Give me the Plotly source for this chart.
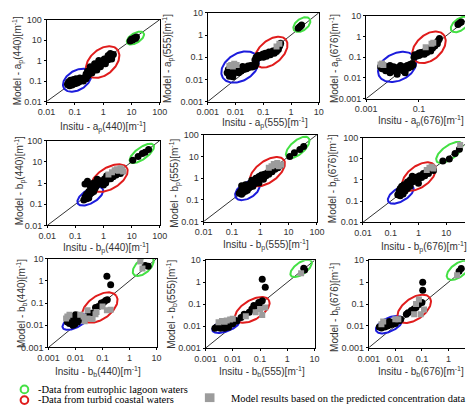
import numpy as np
import plotly.graph_objects as go

# ---------------- data (black = model, gray = model from predicted concentrations) ----
AP440_INSITU = [0.055, 0.06, 0.065, 0.07, 0.075, 0.08, 0.085, 0.09, 0.1, 0.1, 0.11, 0.12, 0.13, 0.14, 0.15, 0.16, 0.18, 0.2, 0.22, 0.25, 0.28, 0.3,
                0.25, 0.28, 0.3, 0.35, 0.38, 0.4, 0.45, 0.5, 0.5, 0.55, 0.6, 0.65, 0.7, 0.75, 0.8, 0.9, 1.0, 1.0, 1.1, 1.2, 1.4, 1.5, 1.7, 2.0, 2.3,
                0.4, 0.6, 0.8, 1.2, 0.35, 0.5, 0.7, 1.5, 2.0, 1.8,
                9, 10, 11, 12, 13, 14, 15]
AP440_MODEL = [0.07, 0.09, 0.06, 0.11, 0.08, 0.065, 0.1, 0.12, 0.075, 0.095, 0.13, 0.08, 0.11, 0.09, 0.14, 0.11, 0.12, 0.1, 0.15, 0.13, 0.17, 0.2,
               0.22, 0.3, 0.25, 0.35, 0.28, 0.45, 0.4, 0.5, 0.35, 0.6, 0.45, 0.7, 0.55, 0.85, 0.65, 0.8, 1.0, 0.7, 1.2, 0.9, 1.3, 1.1, 1.6, 1.5, 2.0,
               0.25, 0.35, 0.5, 0.7, 0.5, 0.7, 1.0, 1.8, 1.2, 2.2,
               9, 11, 10, 12, 13, 12, 14]
AP440_PRED_INSITU = []
AP440_PRED_MODEL = []

AP555_INSITU = [0.005, 0.0055, 0.006, 0.007, 0.007, 0.008, 0.009, 0.01, 0.01, 0.012, 0.013, 0.015, 0.016, 0.018, 0.02, 0.022, 0.025, 0.028, 0.03, 0.035, 0.04, 0.045, 0.05, 0.055, 0.006, 0.008,
                0.05, 0.055, 0.06, 0.065, 0.07, 0.08, 0.09, 0.1, 0.1, 0.11, 0.12, 0.13, 0.15, 0.16, 0.18, 0.2, 0.22, 0.25, 0.27, 0.3, 0.32, 0.35, 0.38, 0.4, 0.42,
                1.8, 2.0, 2.2, 2.4]
AP555_MODEL = [0.02, 0.028, 0.016, 0.022, 0.032, 0.018, 0.026, 0.021, 0.035, 0.028, 0.02, 0.032, 0.024, 0.038, 0.028, 0.035, 0.03, 0.04, 0.034, 0.042, 0.036, 0.045, 0.04, 0.05, 0.014, 0.013,
               0.075, 0.1, 0.085, 0.12, 0.095, 0.11, 0.13, 0.1, 0.14, 0.12, 0.15, 0.11, 0.14, 0.17, 0.13, 0.16, 0.19, 0.15, 0.2, 0.18, 0.25, 0.22, 0.3, 0.35, 0.42,
               2.0, 2.3, 2.5, 2.8]
AP555_PRED_INSITU = [0.006, 0.007, 0.008, 0.009, 0.011, 0.3, 0.38]
AP555_PRED_MODEL = [0.04, 0.045, 0.038, 0.05, 0.045, 0.3, 0.4]

AP676_INSITU = [0.0035, 0.004, 0.0045, 0.005, 0.0055, 0.006, 0.007, 0.008, 0.009, 0.01, 0.011, 0.012, 0.014, 0.016, 0.018, 0.02, 0.022, 0.025, 0.028, 0.032, 0.036, 0.04, 0.045, 0.05, 0.055, 0.06, 0.008, 0.015, 0.03,
                0.065, 0.07, 0.08, 0.09, 0.1, 0.1, 0.11, 0.12, 0.13, 0.15, 0.16, 0.18, 0.2, 0.22, 0.25, 0.28, 0.3, 0.33, 0.36, 0.4, 0.45, 0.5, 0.55, 0.6,
                3.0, 3.5, 4.0]
AP676_MODEL = [0.035, 0.028, 0.04, 0.03, 0.022, 0.035, 0.026, 0.04, 0.03, 0.022, 0.035, 0.028, 0.02, 0.032, 0.025, 0.04, 0.028, 0.022, 0.035, 0.028, 0.04, 0.03, 0.045, 0.035, 0.05, 0.042, 0.018, 0.015, 0.018,
               0.1, 0.13, 0.11, 0.14, 0.12, 0.16, 0.13, 0.17, 0.15, 0.18, 0.14, 0.2, 0.17, 0.22, 0.25, 0.2, 0.3, 0.28, 0.4, 0.35, 0.5, 0.45, 0.65, 0.8,
               3.8, 4.5, 5.0]
AP676_PRED_INSITU = [0.0035, 0.004, 0.0045, 0.18, 0.3, 0.35]
AP676_PRED_MODEL = [0.045, 0.05, 0.042, 0.3, 0.45, 0.5]

BP440_INSITU = [0.2, 0.22, 0.25, 0.25, 0.28, 0.3, 0.3, 0.33, 0.35, 0.38, 0.4, 0.42, 0.45, 0.5, 0.55, 0.22, 0.27, 0.32,
                0.4, 0.45, 0.5, 0.6, 0.7, 0.8, 0.9, 1.0, 1.1, 1.2, 1.4, 1.6, 1.8, 2.0, 2.2, 2.5, 2.8, 3.0, 3.5, 4.0, 4.5, 1.0, 1.3, 0.6,
                11, 17, 24, 30, 40]
BP440_MODEL = [0.16, 0.22, 0.18, 0.3, 0.25, 0.2, 0.4, 0.3, 0.5, 0.35, 0.45, 0.6, 0.4, 0.55, 0.7, 0.9, 1.2, 0.8,
               0.7, 1.0, 0.8, 1.1, 0.9, 1.3, 1.0, 1.2, 1.6, 1.0, 1.5, 2.0, 1.6, 2.5, 2.0, 3.0, 2.4, 3.5, 3.0, 2.8, 3.5, 0.8, 2.2, 1.5,
               12, 18, 25, 28, 38]
BP440_PRED_INSITU = [2.5, 3.0, 3.5, 4.0, 4.5, 5.0, 1.5, 2.0]
BP440_PRED_MODEL = [4.0, 4.5, 3.8, 5.0, 4.2, 3.5, 2.5, 3.2]

BP555_INSITU = [0.18, 0.2, 0.22, 0.25, 0.25, 0.28, 0.3, 0.32, 0.35, 0.38, 0.4, 0.45, 0.5, 0.55, 0.6, 0.7, 0.22, 0.3,
                0.45, 0.5, 0.6, 0.7, 0.8, 0.9, 1.0, 1.1, 1.2, 1.4, 1.6, 1.8, 2.0, 2.3, 2.6, 3.0, 3.3, 3.7, 4.2, 5.0, 0.9, 1.3,
                11, 16, 25, 34]
BP555_MODEL = [0.2, 0.25, 0.18, 0.3, 0.22, 0.4, 0.25, 0.33, 0.28, 0.45, 0.35, 0.4, 0.5, 0.42, 0.55, 0.6, 0.45, 0.5,
               0.6, 0.8, 0.7, 1.0, 0.9, 1.2, 1.0, 1.4, 1.1, 1.5, 1.3, 1.8, 1.5, 2.5, 2.0, 3.0, 2.6, 3.5, 3.0, 3.8, 0.6, 0.9,
               10, 15, 21, 29]
BP555_PRED_INSITU = [2.5, 3.0, 3.5, 4.0, 4.5, 5.5, 2.0]
BP555_PRED_MODEL = [3.5, 4.5, 4.0, 5.0, 3.5, 4.2, 3.0]

BP676_INSITU = [0.18, 0.2, 0.22, 0.22, 0.25, 0.25, 0.28, 0.3, 0.3, 0.33, 0.35, 0.4, 0.45, 0.5,
                0.35, 0.4, 0.45, 0.5, 0.6, 0.7, 0.8, 0.9, 1.0, 1.1, 1.3, 1.5, 1.7, 2.0, 2.3, 2.6, 3.0, 3.5, 0.6, 1.0,
                7.6, 13, 21, 30]
BP676_MODEL = [0.2, 0.3, 0.18, 0.4, 0.25, 0.5, 0.22, 0.35, 0.6, 0.3, 0.45, 0.4, 0.55, 0.5,
               0.6, 0.8, 0.6, 1.0, 0.8, 1.2, 1.0, 1.4, 1.1, 1.6, 1.3, 2.0, 1.6, 2.5, 2.0, 3.0, 3.5, 2.8, 1.5, 0.7,
               8, 9.8, 18, 28]
BP676_PRED_INSITU = [2.0, 2.5, 3.0, 3.5, 32]
BP676_PRED_MODEL = [3.0, 3.8, 4.2, 3.5, 45]

BB440_INSITU = [0.005, 0.0055, 0.006, 0.0065, 0.007, 0.0075, 0.008, 0.0085, 0.009, 0.0095, 0.01, 0.011, 0.012, 0.013, 0.015, 0.017, 0.02, 0.008, 0.01, 0.012,
                0.03, 0.04, 0.055, 0.07, 0.09, 0.11, 0.13, 0.15,
                0.145, 0.2, 3.8, 4.9]
BB440_MODEL = [0.014, 0.018, 0.012, 0.02, 0.015, 0.025, 0.013, 0.018, 0.022, 0.011, 0.016, 0.02, 0.014, 0.025, 0.018, 0.022, 0.02, 0.01, 0.03, 0.028,
               0.03, 0.035, 0.063, 0.07, 0.1, 0.11, 0.13, 0.14,
               1.6, 0.67, 4.9, 4.5]
BB440_PRED_INSITU = [0.0045, 0.005, 0.006, 0.015, 0.02, 0.022, 0.028, 0.028, 0.043, 0.055, 0.06, 0.1, 0.145, 0.2, 2.5, 3.0]
BB440_PRED_MODEL = [0.02, 0.025, 0.03, 0.03, 0.025, 0.015, 0.047, 0.02, 0.019, 0.031, 0.04, 0.07, 0.047, 0.05, 7.4, 3.6]

BB555_INSITU = [0.0025, 0.003, 0.0035, 0.004, 0.0045, 0.005, 0.0055, 0.006, 0.0065, 0.007, 0.008, 0.009, 0.01, 0.011, 0.012, 0.014, 0.005, 0.007, 0.0022,
                0.02, 0.026, 0.04, 0.05, 0.059, 0.07, 0.089, 0.1, 0.12,
                0.12, 0.155, 4.0, 4.3]
BB555_MODEL = [0.009, 0.01, 0.008, 0.011, 0.009, 0.012, 0.01, 0.013, 0.011, 0.014, 0.012, 0.015, 0.013, 0.016, 0.018, 0.017, 0.008, 0.009, 0.008,
               0.025, 0.035, 0.043, 0.06, 0.087, 0.08, 0.12, 0.11, 0.145,
               1.38, 0.59, 4.3, 3.6]
BB555_PRED_INSITU = [0.003, 0.004, 0.005, 0.006, 0.008, 0.01, 0.069, 0.12, 0.155, 0.03, 0.1, 3.2]
BB555_PRED_MODEL = [0.015, 0.017, 0.016, 0.018, 0.02, 0.022, 0.043, 0.032, 0.07, 0.028, 0.06, 2.6]

BB676_INSITU = [0.0025, 0.003, 0.0035, 0.004, 0.0045, 0.005, 0.0055, 0.006, 0.007, 0.008, 0.009, 0.01, 0.011, 0.012, 0.014, 0.016, 0.004, 0.006,
                0.026, 0.04, 0.06, 0.077, 0.1, 0.05, 0.03,
                0.107, 0.107, 2.5, 3.0]
BB676_MODEL = [0.009, 0.008, 0.011, 0.009, 0.012, 0.01, 0.013, 0.011, 0.014, 0.012, 0.015, 0.013, 0.016, 0.018, 0.017, 0.02, 0.014, 0.016,
               0.034, 0.051, 0.069, 0.095, 0.117, 0.06, 0.04,
               1.0, 0.43, 3.2, 4.2]
BB676_PRED_INSITU = [0.003, 0.0035, 0.01, 0.013, 0.051, 0.077, 0.09, 0.12, 0.06, 2.1]
BB676_PRED_MODEL = [0.012, 0.016, 0.02, 0.02, 0.034, 0.16, 0.034, 0.056, 0.1, 2.1]

TICKS_0_01 = [0.01, 0.1, 1, 10, 100]
TICKS_0_01_TEXT = ["0.01", "0.1", "1", "10", "100"]
TICKS_0_001 = [0.001, 0.01, 0.1, 1, 10]
TICKS_0_001_TEXT = ["0.001", "0.01", "0.1", "1", "10"]
TICKS_SPARSE = [0.001, 0.1, 10]
TICKS_SPARSE_TEXT = ["0.001", "0.1", "10"]

LEGEND_TEXTS = ["-Data from eutrophic lagoon waters", "-Data from turbid coastal waters",
                "Model results based on the predicted concentration data"]

# ---------------- layout / styling ----------------
W, H = 473, 410
BLUE, RED, GREEN = '#1c1cdc', '#e01c1c', '#44e044'
TXT = '#333333'


def lab(kind, sub, wl, model):
    pre = "Model - " if model else "Insitu - "
    return f"{pre}{kind}<sub>{sub}</sub>({wl})[m<sup>-1</sup>]"


PANELS = [
    dict(d=(AP440_INSITU, AP440_MODEL, AP440_PRED_INSITU, AP440_PRED_MODEL), box=(37, 155, 15, 99),
         xr=(-2, 2), yr=(-2, 2), xt=(TICKS_0_01, TICKS_0_01_TEXT), yt=(TICKS_0_01, TICKS_0_01_TEXT),
         lab=("a", "p", "440"), xtp=(96, 125), ytp=(7, 57), right=True,
         ell=[(0.12, 0.11, 16, 10, 30, BLUE), (0.96, 0.85, 20, 13, 40, RED), (13.8, 12.6, 10, 5, 30, GREEN)]),
    dict(d=(AP555_INSITU, AP555_MODEL, AP555_PRED_INSITU, AP555_PRED_MODEL), box=(205, 320.7, 8, 99),
         xr=(-3, 1), yr=(-3, 1), xt=(TICKS_0_001, TICKS_0_001_TEXT), yt=(TICKS_0_001, TICKS_0_001_TEXT),
         lab=("a", "p", "555"), xtp=(265, 121), ytp=(163, 55), right=True,
         ell=[(0.0145, 0.036, 21, 14, 30, BLUE), (0.19, 0.17, 20, 12, 40, RED), (2.45, 2.95, 10, 6, 35, GREEN)]),
    dict(d=(AP676_INSITU, AP676_MODEL, AP676_PRED_INSITU, AP676_PRED_MODEL), box=(370, 473, 11, 96),
         xr=(-3, 0.745), yr=(-3, 1), xt=(TICKS_SPARSE, TICKS_SPARSE_TEXT), yt=(TICKS_0_001, TICKS_0_001_TEXT),
         lab=("a", "p", "676"), xtp=(427, 119), ytp=(337, 55), right=False,
         ell=[(0.015, 0.034, 21, 14, 25, BLUE), (0.24, 0.3, 20, 13, 40, RED), (3.6, 3.8, 11, 6, 35, GREEN)]),
    dict(d=(BP440_INSITU, BP440_MODEL, BP440_PRED_INSITU, BP440_PRED_MODEL), box=(37.7, 155, 139, 226),
         xr=(-2, 2), yr=(-2, 2), xt=(TICKS_0_01, TICKS_0_01_TEXT), yt=(TICKS_0_01, TICKS_0_01_TEXT),
         lab=("b", "p", "440"), xtp=(99, 249), ytp=(9, 180), right=True,
         ell=[(0.34, 0.24, 15, 7, 30, BLUE), (1.63, 1.7, 21, 11, 30, RED), (23, 25, 15, 6, 35, GREEN)]),
    dict(d=(BP555_INSITU, BP555_MODEL, BP555_PRED_INSITU, BP555_PRED_MODEL), box=(200.7, 318.7, 133, 222),
         xr=(-2, 2), yr=(-2, 2), xt=(TICKS_0_01, TICKS_0_01_TEXT), yt=(TICKS_0_01, TICKS_0_01_TEXT),
         lab=("b", "p", "555"), xtp=(266, 246), ytp=(170, 183), right=True,
         ell=[(0.35, 0.27, 14, 8, 30, BLUE), (1.78, 2.0, 21, 11, 35, RED), (21, 26, 15, 7, 40, GREEN)]),
    dict(d=(BP676_INSITU, BP676_MODEL, BP676_PRED_INSITU, BP676_PRED_MODEL), box=(366.7, 473, 136, 222.7),
         xr=(-2, 1.68), yr=(-2, 2), xt=(TICKS_0_01, TICKS_0_01_TEXT), yt=(TICKS_0_01, TICKS_0_01_TEXT),
         lab=("b", "p", "676"), xtp=(430, 248), ytp=(335, 178), right=False,
         ell=[(0.23, 0.21, 15, 7, 30, BLUE), (1.05, 1.45, 20, 11, 35, RED), (13, 20, 16, 7, 35, GREEN)]),
    dict(d=(BB440_INSITU, BB440_MODEL, BB440_PRED_INSITU, BB440_PRED_MODEL), box=(39, 151.7, 260, 351),
         xr=(-3, 1), yr=(-3, 1), xt=(TICKS_0_001, TICKS_0_001_TEXT), yt=(TICKS_0_001, TICKS_0_001_TEXT),
         lab=("b", "b", "440"), xtp=(91, 376), ytp=(11, 306), right=True,
         ell=[(0.0095, 0.014, 14, 6, 25, BLUE), (0.079, 0.063, 21, 12, 35, RED), (3.2, 4.5, 13, 7, 40, GREEN)]),
    dict(d=(BB555_INSITU, BB555_MODEL, BB555_PRED_INSITU, BB555_PRED_MODEL), box=(202.7, 316.3, 261.7, 351.7),
         xr=(-3, 1), yr=(-3, 1), xt=(TICKS_0_001, TICKS_0_001_TEXT), yt=(TICKS_0_001, TICKS_0_001_TEXT),
         lab=("b", "b", "555"), xtp=(261, 376), ytp=(167, 307), right=True,
         ell=[(0.0056, 0.0107, 15, 6, 20, BLUE), (0.052, 0.055, 20, 10, 30, RED), (3.2, 4.3, 13, 6, 35, GREEN)]),
    dict(d=(BB676_INSITU, BB676_MODEL, BB676_PRED_INSITU, BB676_PRED_MODEL), box=(372.7, 473, 261.7, 351.3),
         xr=(-3, 0.62), yr=(-3, 1), xt=(TICKS_0_001, TICKS_0_001_TEXT), yt=(TICKS_0_001, TICKS_0_001_TEXT),
         lab=("b", "b", "676"), xtp=(427, 376), ytp=(337, 310), right=False,
         ell=[(0.0059, 0.0114, 15, 7, 25, BLUE), (0.051, 0.06, 20, 11, 35, RED), (2.35, 3.5, 14, 7, 35, GREEN)]),
]

fig = go.Figure()
annotations = []
shapes = []
layout_axes = {}

for i, p in enumerate(PANELS):
    n = i + 1
    xs = '' if n == 1 else str(n)
    xa, ya = 'x' + xs, 'y' + xs
    x0, x1, yt_, yb_ = p['box']
    xin, ymod, xpin, ypmod = p['d']
    lo = 10 ** min(p['xr'][0], p['yr'][0])
    hi = 10 ** max(p['xr'][1], p['yr'][1])
    # 1:1 line
    fig.add_trace(go.Scatter(x=[lo, hi], y=[lo, hi], mode='lines', line=dict(color='#333333', width=1),
                             xaxis=xa, yaxis=ya, showlegend=False, hoverinfo='skip'))
    # ellipses (drawn in pixel-proportional space)
    ppx = (x1 - x0) / (p['xr'][1] - p['xr'][0])
    ppy = (yb_ - yt_) / (p['yr'][1] - p['yr'][0])
    t = np.linspace(0, 2 * np.pi, 120)
    for (cx, cy, a, b, ang, col) in p['ell']:
        th = np.radians(ang)
        dx = a * np.cos(t) * np.cos(th) - b * np.sin(t) * np.sin(th)
        dy = a * np.cos(t) * np.sin(th) + b * np.sin(t) * np.cos(th)
        ex = 10 ** (np.log10(cx) + dx / ppx)
        ey = 10 ** (np.log10(cy) + dy / ppy)
        fig.add_trace(go.Scatter(x=ex, y=ey, mode='lines', line=dict(color=col, width=2),
                                 xaxis=xa, yaxis=ya, showlegend=False, hoverinfo='skip'))
    fig.add_trace(go.Scatter(x=xin, y=ymod, mode='markers',
                             marker=dict(color='black', size=7, symbol='circle'),
                             xaxis=xa, yaxis=ya, showlegend=False))
    if xpin:
        fig.add_trace(go.Scatter(x=xpin, y=ypmod, mode='markers',
                                 marker=dict(color='#9c9c9c', size=6, symbol='square'),
                                 xaxis=xa, yaxis=ya, showlegend=False))
    common = dict(type='log', showgrid=False, zeroline=False, showline=True, linecolor='black', linewidth=1,
                  ticks='outside', ticklen=2, tickcolor='black', tickfont=dict(family='Liberation Sans', size=9, color=TXT))
    layout_axes['xaxis' + xs] = dict(common, domain=[x0 / W, x1 / W], range=list(p['xr']), anchor=ya,
                                     tickvals=p['xt'][0], ticktext=p['xt'][1], mirror=True)
    layout_axes['yaxis' + xs] = dict(common, domain=[1 - yb_ / H, 1 - yt_ / H], range=list(p['yr']), anchor=xa,
                                     tickvals=p['yt'][0], ticktext=p['yt'][1], mirror=p['right'])
    kind, sub, wl = p['lab']
    annotations.append(dict(text=lab(kind, sub, wl, False), x=p['xtp'][0] / W, y=1 - p['xtp'][1] / H,
                            xref='paper', yref='paper', showarrow=False, xanchor='center', yanchor='middle',
                            font=dict(family='Liberation Sans', size=10, color=TXT)))
    annotations.append(dict(text=lab(kind, sub, wl, True), x=p['ytp'][0] / W, y=1 - p['ytp'][1] / H,
                            xref='paper', yref='paper', showarrow=False, xanchor='center', yanchor='middle',
                            textangle=-90, font=dict(family='Liberation Sans', size=10, color=TXT)))

# legend-like key at the bottom
serif = dict(family='Liberation Serif', size=10.5, color='black')
shapes.append(dict(type='circle', xref='paper', yref='paper', x0=10 / W, x1=18 / W, y0=1 - 398 / H, y1=1 - 390 / H,
                   line=dict(color=GREEN, width=2)))
shapes.append(dict(type='circle', xref='paper', yref='paper', x0=10 / W, x1=18 / W, y0=1 - 409 / H, y1=1 - 401 / H,
                   line=dict(color=RED, width=2)))
shapes.append(dict(type='rect', xref='paper', yref='paper', x0=202 / W, x1=212 / W, y0=1 - 407 / H, y1=1 - 398 / H,
                   fillcolor='#9c9c9c', line=dict(width=0)))
annotations.append(dict(text=LEGEND_TEXTS[0], x=26 / W, y=1 - 394 / H, xref='paper', yref='paper', showarrow=False,
                        xanchor='left', yanchor='middle', font=serif))
annotations.append(dict(text=LEGEND_TEXTS[1], x=26 / W, y=1 - 404.5 / H, xref='paper', yref='paper', showarrow=False,
                        xanchor='left', yanchor='middle', font=serif))
annotations.append(dict(text=LEGEND_TEXTS[2], x=227 / W, y=1 - 403 / H, xref='paper', yref='paper', showarrow=False,
                        xanchor='left', yanchor='middle', font=serif))

fig.update_layout(width=W, height=H, margin=dict(l=0, r=0, t=0, b=0), paper_bgcolor='white', plot_bgcolor='white',
                  showlegend=False, annotations=annotations, shapes=shapes, **layout_axes)
fig.write_html("out.html")
